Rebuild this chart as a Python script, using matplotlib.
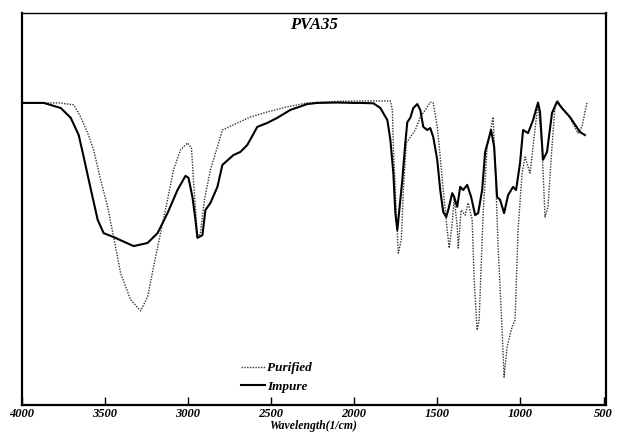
import numpy as np
import matplotlib
matplotlib.use("Agg")
import matplotlib.pyplot as plt

# wavenumber (1/cm) and transmittance
impure_wn = [3994, 3866, 3764, 3704, 3656, 3626, 3596, 3542, 3506, 3446, 3326, 3242,
             3182, 3122, 3062, 3014, 2996, 2972, 2954, 2942, 2912, 2894, 2864, 2822,
             2792, 2726, 2684, 2642, 2582, 2522, 2462, 2384, 2282, 2222, 2100, 2000,
             1962, 1884, 1842, 1800, 1782, 1764, 1752, 1740, 1734, 1710, 1692, 1680,
             1662, 1644, 1620, 1602, 1584, 1560, 1542, 1524, 1500, 1482, 1464, 1446,
             1434, 1410, 1398, 1380, 1362, 1344, 1320, 1296, 1272, 1254, 1230, 1212,
             1176, 1158, 1140, 1122, 1098, 1074, 1044, 1026, 1002, 984, 954, 924,
             894, 882, 864, 840, 810, 780, 750, 702, 642, 612]
impure_t = [77.0, 77.0, 75.7, 73.2, 68.8, 63.2, 57.4, 47.2, 43.8, 42.8, 40.5, 41.3,
            43.8, 48.9, 54.8, 58.4, 57.9, 53.0, 47.2, 42.6, 43.3, 49.7, 51.5, 55.6,
            61.2, 63.7, 64.5, 66.3, 70.9, 71.9, 73.2, 75.2, 76.7, 77.0, 77.1, 77.0,
            77.0, 76.9, 75.7, 72.6, 67.6, 59.1, 48.9, 44.6, 47.2, 57.4, 66.8, 72.1,
            73.2, 75.7, 76.7, 75.2, 70.9, 70.1, 70.6, 68.3, 62.5, 54.8, 49.2, 47.9,
            49.7, 54.0, 53.0, 50.5, 55.6, 54.8, 56.1, 53.0, 48.4, 48.9, 54.8, 64.5,
            70.1, 65.8, 53.0, 52.3, 48.9, 53.5, 55.6, 54.8, 61.7, 70.1, 69.3, 72.6,
            77.1, 74.7, 62.5, 64.5, 74.4, 77.3, 75.7, 73.4, 69.6, 68.8]

purified_wn = [3994, 3900, 3770, 3686, 3644, 3602, 3566, 3524, 3482, 3446, 3404, 3344,
               3284, 3242, 3206, 3164, 3122, 3086, 3044, 3002, 2978, 2966, 2942, 2924,
               2900, 2864, 2822, 2792, 2726, 2624, 2522, 2402, 2282, 2100, 1962, 1782,
               1770, 1764, 1746, 1734, 1716, 1704, 1686, 1662, 1632, 1602, 1572, 1542,
               1524, 1500, 1482, 1464, 1440, 1428, 1410, 1398, 1380, 1374, 1356, 1332,
               1314, 1290, 1278, 1260, 1248, 1224, 1200, 1164, 1152, 1134, 1110, 1098,
               1080, 1050, 1032, 1014, 990, 972, 942, 924, 894, 870, 852, 834,
               810, 792, 774, 744, 702, 654, 630, 600]
purified_t = [77.1, 77.0, 77.0, 76.5, 73.4, 69.3, 65.0, 57.4, 50.5, 42.8, 33.6, 26.8,
              24.0, 27.5, 35.2, 43.8, 52.3, 59.9, 65.0, 66.8, 65.5, 57.4, 42.8, 43.8,
              52.3, 59.9, 65.8, 70.1, 71.4, 73.4, 74.7, 76.0, 77.0, 77.4, 77.5, 77.5,
              75.2, 65.8, 48.9, 38.7, 42.1, 54.8, 66.8, 68.3, 70.1, 73.4, 75.2, 77.2,
              77.0, 70.9, 63.2, 54.8, 44.6, 40.0, 46.4, 52.8, 45.4, 40.0, 49.7, 48.4,
              51.5, 47.2, 31.9, 19.1, 21.7, 48.9, 65.8, 73.4, 61.7, 40.3, 19.1, 7.1,
              14.8, 19.9, 21.7, 44.6, 59.1, 63.2, 59.1, 65.8, 77.0, 65.8, 47.9, 50.5,
              65.8, 76.0, 77.5, 75.2, 73.2, 69.3, 70.9, 77.0]

xticks = [4000, 3500, 3000, 2500, 2000, 1500, 1000, 500]

serif = ['Liberation Serif', 'DejaVu Serif']

fig = plt.figure(figsize=(6.18, 4.33), dpi=100)
ax = fig.add_axes([0.0348, 0.0647, 0.9453, 0.906])

ax.plot(purified_wn, purified_t, linestyle=(0, (1, 1)), color='#333333', lw=1.0,
        label='Purified')
ax.plot(impure_wn, impure_t, linestyle='-', color='black', lw=1.5, label='Impure')

ax.set_xlim(3995, 487)
ax.set_ylim(0, 100)
ax.set_yticks([])
ax.set_xticks(xticks)
ax.set_xticklabels([str(t) for t in xticks], family=serif, fontsize=9,
                   fontweight='bold', style='italic')
ax.tick_params(axis='x', direction='in', length=6, width=1, pad=2)
for side, w in [('left', 1.6), ('bottom', 1.6), ('top', 1.0), ('right', 1.6)]:
    ax.spines[side].set_linewidth(w)

ax.set_xlabel('Wavelength(1/cm)', family=serif, fontsize=8.5, fontweight='bold',
              style='italic', labelpad=0)
ax.text(0.5, 0.988, 'PVA35', transform=ax.transAxes, ha='center', va='top',
        family=serif, fontsize=12, fontweight='bold', style='italic')

leg = ax.legend(loc='lower left', bbox_to_anchor=(0.355, 0.0), frameon=False,
                handlelength=1.8, handletextpad=0.2, labelspacing=0.5,
                prop={'family': serif, 'size': 9.5, 'weight': 'bold', 'style': 'italic'})

fig.savefig('out.png', dpi=100)
